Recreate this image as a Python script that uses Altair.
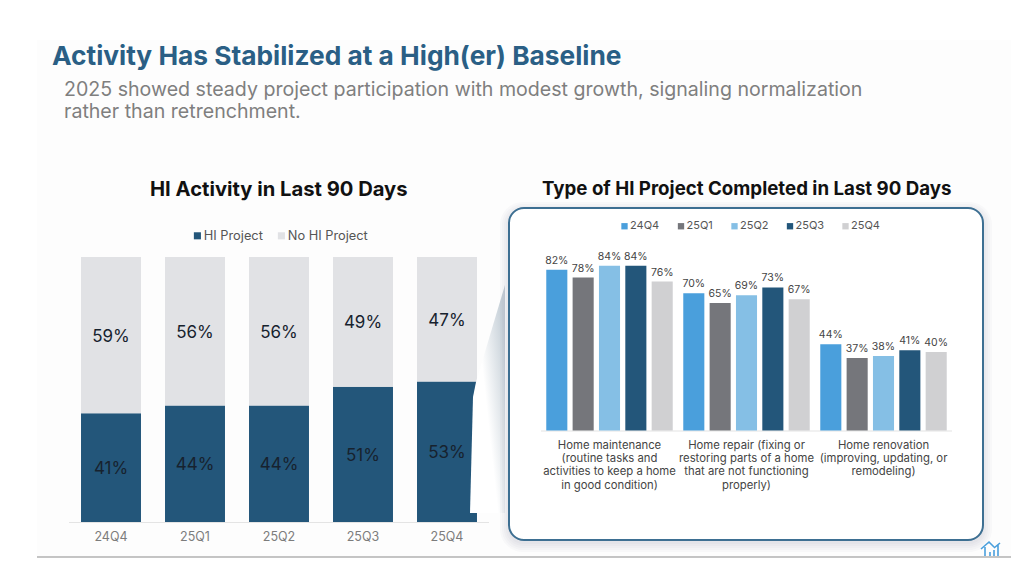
import altair as alt
import pandas as pd

FONT = "Inter"

quarters = ["24Q4", "25Q1", "25Q2", "25Q3", "25Q4"]
hi_project = [41, 44, 44, 51, 53]
no_hi_project = [59, 56, 56, 49, 47]

categories = [
    "Home maintenance\n(routine tasks and\nactivities to keep a home\nin good condition)",
    "Home repair (fixing or\nrestoring parts of a home\nthat are not functioning\nproperly)",
    "Home renovation\n(improving, updating, or\nremodeling)",
]
series_24q4 = [82, 70, 44]
series_25q1 = [78, 65, 37]
series_25q2 = [84, 69, 38]
series_25q3 = [84, 73, 41]
series_25q4 = [76, 67, 40]

left_rows = []
for q, a, b in zip(quarters, hi_project, no_hi_project):
    left_rows.append({"q": q, "s": "HI Project", "start": 0, "end": a, "mid": a / 2, "label": f"{a}%"})
    left_rows.append({"q": q, "s": "No HI Project", "start": a, "end": a + b, "mid": a + b / 2, "label": f"{b}%"})
left_df = pd.DataFrame(left_rows)

right_rows = []
for q, vals in zip(quarters, [series_24q4, series_25q1, series_25q2, series_25q3, series_25q4]):
    for c, v in zip(categories, vals):
        right_rows.append({"cat": c, "q": q, "v": v, "label": f"{v}%"})
right_df = pd.DataFrame(right_rows)
cat_df = pd.DataFrame({"cat": categories})
quarter_df = pd.DataFrame({"q": quarters})

one = alt.InlineData(values=[{}])


def box(x, x2, y, y2, **kw):
    return alt.Chart(one).mark_rect(**kw).encode(
        x=alt.value(x - 8), x2=alt.value(x2 - 8), y=alt.value(y - 8), y2=alt.value(y2 - 8)
    )


def label(text, x, y, size, color, weight="normal"):
    return alt.Chart(one).mark_text(
        align="left", baseline="middle", font=FONT, fontSize=size, color=color, fontWeight=weight
    ).encode(x=alt.value(x - 8), y=alt.value(y - 8), text=alt.value(text))


def glyph(path, x, y, **kw):
    return alt.Chart(one).mark_point(shape=path, size=4, **kw).encode(x=alt.value(x - 8), y=alt.value(y - 8))


# ---- left chart
lx = alt.Scale(domain=quarters, range=[61, 481], paddingInner=0.286, paddingOuter=0.143)
ly = alt.Scale(domain=[0, 100], range=[514, 249], nice=False)
left_color = alt.Scale(domain=["HI Project", "No HI Project"], range=["#23567a", "#e1e2e5"])

left_bars = alt.Chart(alt.Data(values=left_df.to_dict("records"))).mark_bar().encode(
    x=alt.X("q:N", scale=lx, sort=quarters, title=None, axis=None),
    y=alt.Y("start:Q", scale=ly, axis=None),
    y2="end:Q",
    color=alt.Color("s:N", scale=left_color, title=None, legend=alt.Legend(
        orient="none", legendX=183, legendY=221, direction="horizontal", symbolType="square",
        symbolSize=50, labelFont=FONT, labelFontSize=12.8, labelColor="#555555", columnPadding=12,
        symbolStrokeWidth=0, labelOffset=0)),
)
left_text = alt.Chart(alt.Data(values=left_df.to_dict("records"))).mark_text(
    font=FONT, fontSize=17, color="#17222e", baseline="middle", dy=1.5
).encode(
    x=alt.X("q:N", scale=lx, sort=quarters, title=None, axis=None),
    y=alt.Y("mid:Q", scale=ly, axis=None),
    text="label:N",
)
left_ticks = alt.Chart(alt.Data(values=quarter_df.to_dict("records"))).mark_text(
    font=FONT, fontSize=12.5, color="#7c7c7c", baseline="middle"
).encode(
    x=alt.X("q:N", scale=lx, sort=quarters, title=None, axis=None),
    y=alt.value(529),
    text="q:N",
)
left = alt.layer(left_bars, left_text, left_ticks)

# ---- right chart
rx = alt.Scale(domain=categories, range=[533, 944], paddingInner=0, paddingOuter=0)
ry = alt.Scale(domain=[0, 100], range=[422.5, 226.5], nice=False)
ro = alt.Scale(domain=quarters, paddingInner=0.2, paddingOuter=0.2)
right_color = alt.Scale(domain=quarters, range=["#4a9fdc", "#75767b", "#85bfe5", "#23567a", "#d0d0d2"])

right_bars = alt.Chart(alt.Data(values=right_df.to_dict("records"))).mark_bar().encode(
    x=alt.X("cat:N", scale=rx, sort=categories, title=None, axis=None),
    xOffset=alt.XOffset("q:N", scale=ro, sort=quarters),
    y=alt.Y("v:Q", scale=ry, axis=None),
    color=alt.Color("q:N", scale=right_color, title=None, legend=alt.Legend(
        orient="none", legendX=609, legendY=212.5, direction="horizontal", symbolType="square",
        symbolSize=40, labelFont=FONT, labelFontSize=11, labelColor="#555555", columnPadding=13.5,
        symbolStrokeWidth=0, labelOffset=0, symbolOffset=2)),
)
right_text = alt.Chart(alt.Data(values=right_df.to_dict("records"))).mark_text(
    font=FONT, fontSize=10.5, color="#444444", baseline="bottom", dy=-4
).encode(
    x=alt.X("cat:N", scale=rx, sort=categories, title=None, axis=None),
    xOffset=alt.XOffset("q:N", scale=ro, sort=quarters),
    y=alt.Y("v:Q", scale=ry, axis=None),
    text="label:N",
)
right_cats = alt.Chart(alt.Data(values=cat_df.to_dict("records"))).mark_text(
    font=FONT, fontSize=11.3, color="#444444", lineBreak="\n", lineHeight=13.2, baseline="top"
).encode(
    x=alt.X("cat:N", scale=rx, sort=categories, title=None, axis=None),
    y=alt.value(432),
    text="cat:N",
)
right = alt.layer(right_bars, right_text, right_cats)

# ---- decoration
backdrop = box(37, 1011, 40, 557, color="#fdfdfd")
base_line = box(37, 1011, 556.5, 557.5, color="#8c8c8c")
left_base = box(69, 489, 522, 523, color="#e4e4e4")
wedge = glyph(
    "M-1,-117 L-4,-102 L-7,14 L0,14 L28,14 L28,-214 Z",
    477, 499, filled=True, opacity=1,
    color=alt.Gradient(gradient="linear", x1=0.45, y1=0.5, x2=0.95, y2=0.15,
                       stops=[alt.GradientStop(color="#ffffff", offset=0),
                              alt.GradientStop(color="#c5cfd7", offset=1)]),
)
shadows = [
    box(509 - g, 983 + g, 208 - g + 3, 540 + g + 3, color="#6a7a88", opacity=0.035, cornerRadius=14 + g)
    for g in (9, 7, 5, 3, 1)
]
panel = box(509, 983, 208, 540, fill="#ffffff", stroke="#3d6f92", strokeWidth=2, cornerRadius=15)
right_base = box(541, 952, 430.5, 431.5, color="#e4e4e4")
house = glyph(
    "M-10,0 L-2,-7 L3,-2 M3,-1 L9,-6 M-6,-2 L-6,7 M-1,3 L-1,7 M3,1 L3,7 M7,-4 L7,7",
    991, 549, filled=False, color="#4a9fdc", strokeWidth=1.6, opacity=1,
)

title = label("Activity Has Stabilized at a High(er) Baseline", 52, 57, 26.3, "#2a5f85", "bold")
sub1 = label("2025 showed steady project participation with modest growth, signaling normalization", 64, 90, 19.6, "#7f7f7f")
sub2 = label("rather than retrenchment.", 64, 112, 19.6, "#7f7f7f")
left_title = label("HI Activity in Last 90 Days", 150, 190, 20.2, "#111111", "bold")
right_title = label("Type of HI Project Completed in Last 90 Days", 542, 189, 18.7, "#111111", "bold")

chart = alt.layer(
    backdrop, base_line, left_base, left, wedge, *shadows, panel, right_base, right, house,
    title, sub1, sub2, left_title, right_title,
).resolve_scale(x="independent", y="independent", color="independent").properties(
    width=1008, height=555, padding=0, autosize=alt.AutoSizeParams(type="none"), background="#ffffff"
).configure_view(stroke=None)

chart.save("out.html", embed_options={"renderer": "svg", "actions": False})
